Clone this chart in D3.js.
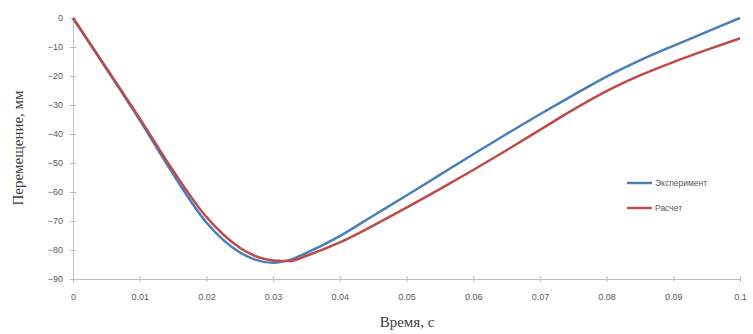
<!DOCTYPE html>
<html><head><meta charset="utf-8">
<script src="https://cdn.jsdelivr.net/npm/d3@7"></script>
<style>body{margin:0;background:#fff}svg{display:block}</style>
</head><body>
<svg id="c" width="753" height="334"></svg>
<script>
const times = [0,0.005,0.01,0.015,0.02,0.025,0.03,0.0325,0.035,0.04,0.045,0.05,0.055,0.06,0.065,0.07,0.075,0.08,0.085,0.09,0.095,0.1];
const experiment = [0,-17.5,-35.2,-53.8,-70.5,-80.8,-84.4,-83.4,-81,-75.2,-68.2,-61.2,-54.1,-47,-40,-33.2,-26.6,-20.2,-14.6,-9.6,-4.8,0];
const calculation = [0,-17.2,-34.6,-52.6,-68.6,-79.2,-83.6,-83.8,-82,-77.4,-71.6,-65.4,-59,-52.4,-45.6,-38.6,-31.6,-25.2,-19.8,-15.2,-11,-7];
const xTicks = [0,0.01,0.02,0.03,0.04,0.05,0.06,0.07,0.08,0.09,0.1];
const xTickLabels = ["0","0.01","0.02","0.03","0.04","0.05","0.06","0.07","0.08","0.09","0.1"];
const yTicks = [0,-10,-20,-30,-40,-50,-60,-70,-80,-90];
const seriesNames = ["Эксперимент","Расчет"];
const seriesColors = ["#4A7EBB","#BE4B48"];

const svg = d3.select("#c");
const x = d3.scaleLinear().domain([0,0.1]).range([73,740]);
const y = d3.scaleLinear().domain([-90,0]).range([279,18]);
const axisColor = "#BFBFBF", textColor = "#595959";

// x axis
const xa = svg.append("g").attr("transform","translate(0,279)")
  .call(d3.axisBottom(x).tickValues(xTicks).tickFormat((d,i)=>xTickLabels[i]).tickSizeInner(3).tickSizeOuter(0).tickPadding(12));
xa.select(".domain").attr("stroke",axisColor);
xa.selectAll(".tick line").attr("stroke",axisColor).attr("y1",-3).attr("y2",3);
xa.selectAll("text").attr("fill",textColor).style("font-family","Liberation Sans, Arial, sans-serif").style("font-size","9px");

// y axis
const ya = svg.append("g").attr("transform","translate(73,0)")
  .call(d3.axisLeft(y).tickValues(yTicks).tickFormat(d3.format("d")).tickSizeInner(3).tickSizeOuter(0).tickPadding(7));
ya.select(".domain").attr("stroke",axisColor);
ya.selectAll(".tick line").attr("stroke",axisColor).attr("x1",-3).attr("x2",3);
ya.selectAll("text").attr("fill",textColor).style("font-family","Liberation Sans, Arial, sans-serif").style("font-size","9px");

// lines
const data = [experiment, calculation];
const line = d3.line().x((d,i)=>x(times[i])).y(d=>y(d)).curve(d3.curveMonotoneX);
data.forEach((s,k)=>{
  svg.append("path").datum(s).attr("d",line).attr("fill","none")
    .attr("stroke",seriesColors[k]).attr("stroke-width",2.5).attr("stroke-linejoin","round");
});

// legend
seriesNames.forEach((n,k)=>{
  const ly = 183 + k*25;
  svg.append("line").attr("x1",627).attr("x2",652).attr("y1",ly).attr("y2",ly)
    .attr("stroke",seriesColors[k]).attr("stroke-width",2.5);
  svg.append("text").attr("x",655).attr("y",ly+3).text(n)
    .attr("fill",textColor).style("font-family","Liberation Sans, Arial, sans-serif").style("font-size","8.5px");
});

// titles
svg.append("text").attr("x",407).attr("y",327).attr("text-anchor","middle").text("Время, с")
  .attr("fill","#404040").style("font-family","Liberation Serif, Times New Roman, serif").style("font-size","15px");
svg.append("text").attr("transform","translate(23,148) rotate(-90)").attr("text-anchor","middle").text("Перемещение, мм")
  .attr("fill","#404040").style("font-family","Liberation Serif, Times New Roman, serif").style("font-size","15px");
</script>
</body></html>
